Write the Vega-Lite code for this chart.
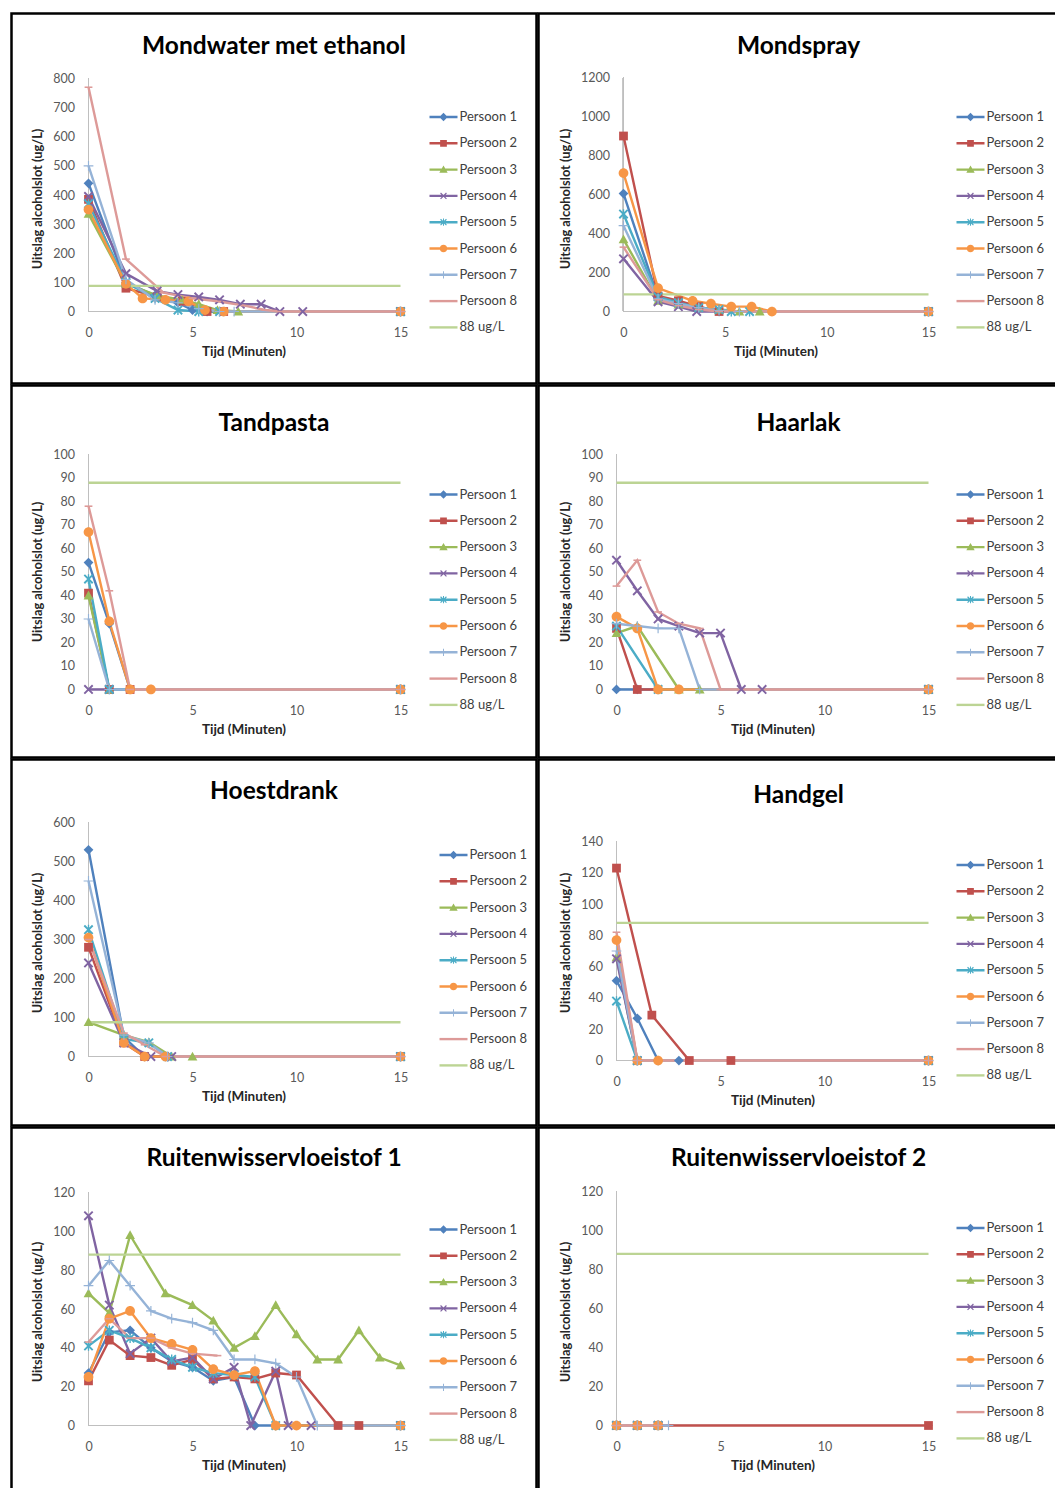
{
  "$schema": "https://vega.github.io/schema/vega-lite/v6.json",
  "background": "white",
  "padding": {"left": 9.5, "top": 11.5, "right": 0, "bottom": 0},
  "spacing": -6,
  "datasets": {
    "d": [
      {"panel":"mondwater","persoon":"Persoon 1","tijd":0,"waarde":440},{"panel":"mondwater","persoon":"Persoon 1","tijd":1.8,"waarde":100},{"panel":"mondwater","persoon":"Persoon 1","tijd":3.2,"waarde":55},{"panel":"mondwater","persoon":"Persoon 1","tijd":4.3,"waarde":30},{"panel":"mondwater","persoon":"Persoon 1","tijd":5,"waarde":5},{"panel":"mondwater","persoon":"Persoon 1","tijd":5.7,"waarde":0},{"panel":"mondwater","persoon":"Persoon 1","tijd":15,"waarde":0},
      {"panel":"mondwater","persoon":"Persoon 2","tijd":0,"waarde":385},{"panel":"mondwater","persoon":"Persoon 2","tijd":1.8,"waarde":80},{"panel":"mondwater","persoon":"Persoon 2","tijd":3.3,"waarde":50},{"panel":"mondwater","persoon":"Persoon 2","tijd":4.5,"waarde":35},{"panel":"mondwater","persoon":"Persoon 2","tijd":5.7,"waarde":0},{"panel":"mondwater","persoon":"Persoon 2","tijd":6.5,"waarde":0},{"panel":"mondwater","persoon":"Persoon 2","tijd":15,"waarde":0},
      {"panel":"mondwater","persoon":"Persoon 3","tijd":0,"waarde":335},{"panel":"mondwater","persoon":"Persoon 3","tijd":1.8,"waarde":95},{"panel":"mondwater","persoon":"Persoon 3","tijd":3.3,"waarde":55},{"panel":"mondwater","persoon":"Persoon 3","tijd":4.5,"waarde":40},{"panel":"mondwater","persoon":"Persoon 3","tijd":5.3,"waarde":25},{"panel":"mondwater","persoon":"Persoon 3","tijd":6.2,"waarde":5},{"panel":"mondwater","persoon":"Persoon 3","tijd":7.2,"waarde":0},{"panel":"mondwater","persoon":"Persoon 3","tijd":15,"waarde":0},
      {"panel":"mondwater","persoon":"Persoon 4","tijd":0,"waarde":395},{"panel":"mondwater","persoon":"Persoon 4","tijd":1.8,"waarde":130},{"panel":"mondwater","persoon":"Persoon 4","tijd":3.3,"waarde":70},{"panel":"mondwater","persoon":"Persoon 4","tijd":4.3,"waarde":58},{"panel":"mondwater","persoon":"Persoon 4","tijd":5.3,"waarde":50},{"panel":"mondwater","persoon":"Persoon 4","tijd":6.3,"waarde":40},{"panel":"mondwater","persoon":"Persoon 4","tijd":7.3,"waarde":25},{"panel":"mondwater","persoon":"Persoon 4","tijd":8.3,"waarde":25},{"panel":"mondwater","persoon":"Persoon 4","tijd":9.2,"waarde":0},{"panel":"mondwater","persoon":"Persoon 4","tijd":10.3,"waarde":0},{"panel":"mondwater","persoon":"Persoon 4","tijd":15,"waarde":0},
      {"panel":"mondwater","persoon":"Persoon 5","tijd":0,"waarde":370},{"panel":"mondwater","persoon":"Persoon 5","tijd":1.8,"waarde":100},{"panel":"mondwater","persoon":"Persoon 5","tijd":3.2,"waarde":45},{"panel":"mondwater","persoon":"Persoon 5","tijd":4.3,"waarde":5},{"panel":"mondwater","persoon":"Persoon 5","tijd":5.3,"waarde":0},{"panel":"mondwater","persoon":"Persoon 5","tijd":6.3,"waarde":0},{"panel":"mondwater","persoon":"Persoon 5","tijd":15,"waarde":0},
      {"panel":"mondwater","persoon":"Persoon 6","tijd":0,"waarde":350},{"panel":"mondwater","persoon":"Persoon 6","tijd":1.8,"waarde":95},{"panel":"mondwater","persoon":"Persoon 6","tijd":2.6,"waarde":45},{"panel":"mondwater","persoon":"Persoon 6","tijd":3.7,"waarde":40},{"panel":"mondwater","persoon":"Persoon 6","tijd":4.8,"waarde":35},{"panel":"mondwater","persoon":"Persoon 6","tijd":5.6,"waarde":5},{"panel":"mondwater","persoon":"Persoon 6","tijd":6.5,"waarde":0},{"panel":"mondwater","persoon":"Persoon 6","tijd":15,"waarde":0},
      {"panel":"mondwater","persoon":"Persoon 7","tijd":0,"waarde":500},{"panel":"mondwater","persoon":"Persoon 7","tijd":1.8,"waarde":110},{"panel":"mondwater","persoon":"Persoon 7","tijd":3.2,"waarde":40},{"panel":"mondwater","persoon":"Persoon 7","tijd":4.3,"waarde":30},{"panel":"mondwater","persoon":"Persoon 7","tijd":5.3,"waarde":10},{"panel":"mondwater","persoon":"Persoon 7","tijd":6.3,"waarde":0},{"panel":"mondwater","persoon":"Persoon 7","tijd":7,"waarde":0},{"panel":"mondwater","persoon":"Persoon 7","tijd":15,"waarde":0},
      {"panel":"mondwater","persoon":"Persoon 8","tijd":0,"waarde":770},{"panel":"mondwater","persoon":"Persoon 8","tijd":1.8,"waarde":180},{"panel":"mondwater","persoon":"Persoon 8","tijd":3.6,"waarde":65},{"panel":"mondwater","persoon":"Persoon 8","tijd":5,"waarde":45},{"panel":"mondwater","persoon":"Persoon 8","tijd":6.2,"waarde":35},{"panel":"mondwater","persoon":"Persoon 8","tijd":7.5,"waarde":20},{"panel":"mondwater","persoon":"Persoon 8","tijd":8.5,"waarde":5},{"panel":"mondwater","persoon":"Persoon 8","tijd":9.2,"waarde":0},{"panel":"mondwater","persoon":"Persoon 8","tijd":15,"waarde":0},
      {"panel":"mondwater","persoon":"88 ug/L","tijd":0,"waarde":88},{"panel":"mondwater","persoon":"88 ug/L","tijd":15,"waarde":88},

      {"panel":"mondspray","persoon":"Persoon 1","tijd":0,"waarde":605},{"panel":"mondspray","persoon":"Persoon 1","tijd":1.7,"waarde":70},{"panel":"mondspray","persoon":"Persoon 1","tijd":2.7,"waarde":40},{"panel":"mondspray","persoon":"Persoon 1","tijd":3.7,"waarde":15},{"panel":"mondspray","persoon":"Persoon 1","tijd":4.7,"waarde":0},{"panel":"mondspray","persoon":"Persoon 1","tijd":15,"waarde":0},
      {"panel":"mondspray","persoon":"Persoon 2","tijd":0,"waarde":900},{"panel":"mondspray","persoon":"Persoon 2","tijd":1.7,"waarde":80},{"panel":"mondspray","persoon":"Persoon 2","tijd":2.7,"waarde":55},{"panel":"mondspray","persoon":"Persoon 2","tijd":3.7,"waarde":25},{"panel":"mondspray","persoon":"Persoon 2","tijd":4.7,"waarde":0},{"panel":"mondspray","persoon":"Persoon 2","tijd":15,"waarde":0},
      {"panel":"mondspray","persoon":"Persoon 3","tijd":0,"waarde":370},{"panel":"mondspray","persoon":"Persoon 3","tijd":1.7,"waarde":55},{"panel":"mondspray","persoon":"Persoon 3","tijd":2.7,"waarde":35},{"panel":"mondspray","persoon":"Persoon 3","tijd":3.7,"waarde":20},{"panel":"mondspray","persoon":"Persoon 3","tijd":4.7,"waarde":10},{"panel":"mondspray","persoon":"Persoon 3","tijd":5.7,"waarde":0},{"panel":"mondspray","persoon":"Persoon 3","tijd":6.7,"waarde":0},{"panel":"mondspray","persoon":"Persoon 3","tijd":15,"waarde":0},
      {"panel":"mondspray","persoon":"Persoon 4","tijd":0,"waarde":270},{"panel":"mondspray","persoon":"Persoon 4","tijd":1.7,"waarde":50},{"panel":"mondspray","persoon":"Persoon 4","tijd":2.7,"waarde":25},{"panel":"mondspray","persoon":"Persoon 4","tijd":3.6,"waarde":0},{"panel":"mondspray","persoon":"Persoon 4","tijd":15,"waarde":0},
      {"panel":"mondspray","persoon":"Persoon 5","tijd":0,"waarde":500},{"panel":"mondspray","persoon":"Persoon 5","tijd":1.7,"waarde":75},{"panel":"mondspray","persoon":"Persoon 5","tijd":2.7,"waarde":45},{"panel":"mondspray","persoon":"Persoon 5","tijd":3.7,"waarde":20},{"panel":"mondspray","persoon":"Persoon 5","tijd":4.7,"waarde":10},{"panel":"mondspray","persoon":"Persoon 5","tijd":5.3,"waarde":0},{"panel":"mondspray","persoon":"Persoon 5","tijd":6.2,"waarde":0},{"panel":"mondspray","persoon":"Persoon 5","tijd":15,"waarde":0},
      {"panel":"mondspray","persoon":"Persoon 6","tijd":0,"waarde":710},{"panel":"mondspray","persoon":"Persoon 6","tijd":1.7,"waarde":120},{"panel":"mondspray","persoon":"Persoon 6","tijd":3.4,"waarde":55},{"panel":"mondspray","persoon":"Persoon 6","tijd":4.3,"waarde":40},{"panel":"mondspray","persoon":"Persoon 6","tijd":5.3,"waarde":25},{"panel":"mondspray","persoon":"Persoon 6","tijd":6.3,"waarde":25},{"panel":"mondspray","persoon":"Persoon 6","tijd":7.3,"waarde":0},{"panel":"mondspray","persoon":"Persoon 6","tijd":15,"waarde":0},
      {"panel":"mondspray","persoon":"Persoon 7","tijd":0,"waarde":440},{"panel":"mondspray","persoon":"Persoon 7","tijd":1.7,"waarde":65},{"panel":"mondspray","persoon":"Persoon 7","tijd":2.7,"waarde":40},{"panel":"mondspray","persoon":"Persoon 7","tijd":3.7,"waarde":20},{"panel":"mondspray","persoon":"Persoon 7","tijd":4.7,"waarde":5},{"panel":"mondspray","persoon":"Persoon 7","tijd":5.7,"waarde":0},{"panel":"mondspray","persoon":"Persoon 7","tijd":15,"waarde":0},
      {"panel":"mondspray","persoon":"Persoon 8","tijd":0,"waarde":330},{"panel":"mondspray","persoon":"Persoon 8","tijd":1.7,"waarde":60},{"panel":"mondspray","persoon":"Persoon 8","tijd":2.7,"waarde":30},{"panel":"mondspray","persoon":"Persoon 8","tijd":3.7,"waarde":10},{"panel":"mondspray","persoon":"Persoon 8","tijd":4.7,"waarde":0},{"panel":"mondspray","persoon":"Persoon 8","tijd":15,"waarde":0},
      {"panel":"mondspray","persoon":"88 ug/L","tijd":0,"waarde":88},{"panel":"mondspray","persoon":"88 ug/L","tijd":15,"waarde":88},

      {"panel":"tandpasta","persoon":"Persoon 1","tijd":0,"waarde":54},{"panel":"tandpasta","persoon":"Persoon 1","tijd":1,"waarde":28},{"panel":"tandpasta","persoon":"Persoon 1","tijd":2,"waarde":0},{"panel":"tandpasta","persoon":"Persoon 1","tijd":15,"waarde":0},
      {"panel":"tandpasta","persoon":"Persoon 2","tijd":0,"waarde":41},{"panel":"tandpasta","persoon":"Persoon 2","tijd":1,"waarde":0},{"panel":"tandpasta","persoon":"Persoon 2","tijd":2,"waarde":0},{"panel":"tandpasta","persoon":"Persoon 2","tijd":15,"waarde":0},
      {"panel":"tandpasta","persoon":"Persoon 3","tijd":0,"waarde":40},{"panel":"tandpasta","persoon":"Persoon 3","tijd":1,"waarde":0},{"panel":"tandpasta","persoon":"Persoon 3","tijd":15,"waarde":0},
      {"panel":"tandpasta","persoon":"Persoon 4","tijd":0,"waarde":0},{"panel":"tandpasta","persoon":"Persoon 4","tijd":1,"waarde":0},{"panel":"tandpasta","persoon":"Persoon 4","tijd":15,"waarde":0},
      {"panel":"tandpasta","persoon":"Persoon 5","tijd":0,"waarde":47},{"panel":"tandpasta","persoon":"Persoon 5","tijd":1,"waarde":0},{"panel":"tandpasta","persoon":"Persoon 5","tijd":15,"waarde":0},
      {"panel":"tandpasta","persoon":"Persoon 6","tijd":0,"waarde":67},{"panel":"tandpasta","persoon":"Persoon 6","tijd":1,"waarde":29},{"panel":"tandpasta","persoon":"Persoon 6","tijd":2,"waarde":0},{"panel":"tandpasta","persoon":"Persoon 6","tijd":3,"waarde":0},{"panel":"tandpasta","persoon":"Persoon 6","tijd":15,"waarde":0},
      {"panel":"tandpasta","persoon":"Persoon 7","tijd":0,"waarde":30},{"panel":"tandpasta","persoon":"Persoon 7","tijd":1,"waarde":0},{"panel":"tandpasta","persoon":"Persoon 7","tijd":15,"waarde":0},
      {"panel":"tandpasta","persoon":"Persoon 8","tijd":0,"waarde":78},{"panel":"tandpasta","persoon":"Persoon 8","tijd":1,"waarde":42},{"panel":"tandpasta","persoon":"Persoon 8","tijd":2,"waarde":0},{"panel":"tandpasta","persoon":"Persoon 8","tijd":15,"waarde":0},
      {"panel":"tandpasta","persoon":"88 ug/L","tijd":0,"waarde":88},{"panel":"tandpasta","persoon":"88 ug/L","tijd":15,"waarde":88},

      {"panel":"haarlak","persoon":"Persoon 1","tijd":0,"waarde":0},{"panel":"haarlak","persoon":"Persoon 1","tijd":1,"waarde":0},{"panel":"haarlak","persoon":"Persoon 1","tijd":15,"waarde":0},
      {"panel":"haarlak","persoon":"Persoon 2","tijd":0,"waarde":26},{"panel":"haarlak","persoon":"Persoon 2","tijd":1,"waarde":0},{"panel":"haarlak","persoon":"Persoon 2","tijd":15,"waarde":0},
      {"panel":"haarlak","persoon":"Persoon 3","tijd":0,"waarde":24},{"panel":"haarlak","persoon":"Persoon 3","tijd":1,"waarde":27},{"panel":"haarlak","persoon":"Persoon 3","tijd":3,"waarde":0},{"panel":"haarlak","persoon":"Persoon 3","tijd":4,"waarde":0},{"panel":"haarlak","persoon":"Persoon 3","tijd":15,"waarde":0},
      {"panel":"haarlak","persoon":"Persoon 4","tijd":0,"waarde":55},{"panel":"haarlak","persoon":"Persoon 4","tijd":1,"waarde":42},{"panel":"haarlak","persoon":"Persoon 4","tijd":2,"waarde":30},{"panel":"haarlak","persoon":"Persoon 4","tijd":3,"waarde":27},{"panel":"haarlak","persoon":"Persoon 4","tijd":4,"waarde":24},{"panel":"haarlak","persoon":"Persoon 4","tijd":5,"waarde":24},{"panel":"haarlak","persoon":"Persoon 4","tijd":6,"waarde":0},{"panel":"haarlak","persoon":"Persoon 4","tijd":7,"waarde":0},{"panel":"haarlak","persoon":"Persoon 4","tijd":15,"waarde":0},
      {"panel":"haarlak","persoon":"Persoon 5","tijd":0,"waarde":27},{"panel":"haarlak","persoon":"Persoon 5","tijd":2,"waarde":0},{"panel":"haarlak","persoon":"Persoon 5","tijd":15,"waarde":0},
      {"panel":"haarlak","persoon":"Persoon 6","tijd":0,"waarde":31},{"panel":"haarlak","persoon":"Persoon 6","tijd":1,"waarde":26},{"panel":"haarlak","persoon":"Persoon 6","tijd":2,"waarde":0},{"panel":"haarlak","persoon":"Persoon 6","tijd":3,"waarde":0},{"panel":"haarlak","persoon":"Persoon 6","tijd":15,"waarde":0},
      {"panel":"haarlak","persoon":"Persoon 7","tijd":0,"waarde":28},{"panel":"haarlak","persoon":"Persoon 7","tijd":1,"waarde":27},{"panel":"haarlak","persoon":"Persoon 7","tijd":2,"waarde":26},{"panel":"haarlak","persoon":"Persoon 7","tijd":3,"waarde":26},{"panel":"haarlak","persoon":"Persoon 7","tijd":4,"waarde":0},{"panel":"haarlak","persoon":"Persoon 7","tijd":15,"waarde":0},
      {"panel":"haarlak","persoon":"Persoon 8","tijd":0,"waarde":44},{"panel":"haarlak","persoon":"Persoon 8","tijd":1,"waarde":55},{"panel":"haarlak","persoon":"Persoon 8","tijd":2,"waarde":33},{"panel":"haarlak","persoon":"Persoon 8","tijd":3,"waarde":28},{"panel":"haarlak","persoon":"Persoon 8","tijd":4,"waarde":26},{"panel":"haarlak","persoon":"Persoon 8","tijd":5,"waarde":0},{"panel":"haarlak","persoon":"Persoon 8","tijd":15,"waarde":0},
      {"panel":"haarlak","persoon":"88 ug/L","tijd":0,"waarde":88},{"panel":"haarlak","persoon":"88 ug/L","tijd":15,"waarde":88},

      {"panel":"hoestdrank","persoon":"Persoon 1","tijd":0,"waarde":530},{"panel":"hoestdrank","persoon":"Persoon 1","tijd":1.7,"waarde":50},{"panel":"hoestdrank","persoon":"Persoon 1","tijd":2.7,"waarde":0},{"panel":"hoestdrank","persoon":"Persoon 1","tijd":3.7,"waarde":0},{"panel":"hoestdrank","persoon":"Persoon 1","tijd":15,"waarde":0},
      {"panel":"hoestdrank","persoon":"Persoon 2","tijd":0,"waarde":280},{"panel":"hoestdrank","persoon":"Persoon 2","tijd":1.7,"waarde":35},{"panel":"hoestdrank","persoon":"Persoon 2","tijd":2.7,"waarde":0},{"panel":"hoestdrank","persoon":"Persoon 2","tijd":15,"waarde":0},
      {"panel":"hoestdrank","persoon":"Persoon 3","tijd":0,"waarde":88},{"panel":"hoestdrank","persoon":"Persoon 3","tijd":1.7,"waarde":55},{"panel":"hoestdrank","persoon":"Persoon 3","tijd":2.9,"waarde":37},{"panel":"hoestdrank","persoon":"Persoon 3","tijd":4,"waarde":0},{"panel":"hoestdrank","persoon":"Persoon 3","tijd":5,"waarde":0},{"panel":"hoestdrank","persoon":"Persoon 3","tijd":15,"waarde":0},
      {"panel":"hoestdrank","persoon":"Persoon 4","tijd":0,"waarde":240},{"panel":"hoestdrank","persoon":"Persoon 4","tijd":1.7,"waarde":35},{"panel":"hoestdrank","persoon":"Persoon 4","tijd":3,"waarde":0},{"panel":"hoestdrank","persoon":"Persoon 4","tijd":4,"waarde":0},{"panel":"hoestdrank","persoon":"Persoon 4","tijd":15,"waarde":0},
      {"panel":"hoestdrank","persoon":"Persoon 5","tijd":0,"waarde":325},{"panel":"hoestdrank","persoon":"Persoon 5","tijd":1.7,"waarde":45},{"panel":"hoestdrank","persoon":"Persoon 5","tijd":2.9,"waarde":35},{"panel":"hoestdrank","persoon":"Persoon 5","tijd":3.8,"waarde":0},{"panel":"hoestdrank","persoon":"Persoon 5","tijd":15,"waarde":0},
      {"panel":"hoestdrank","persoon":"Persoon 6","tijd":0,"waarde":305},{"panel":"hoestdrank","persoon":"Persoon 6","tijd":1.7,"waarde":35},{"panel":"hoestdrank","persoon":"Persoon 6","tijd":2.7,"waarde":0},{"panel":"hoestdrank","persoon":"Persoon 6","tijd":3.7,"waarde":0},{"panel":"hoestdrank","persoon":"Persoon 6","tijd":15,"waarde":0},
      {"panel":"hoestdrank","persoon":"Persoon 7","tijd":0,"waarde":450},{"panel":"hoestdrank","persoon":"Persoon 7","tijd":1.7,"waarde":55},{"panel":"hoestdrank","persoon":"Persoon 7","tijd":2.9,"waarde":35},{"panel":"hoestdrank","persoon":"Persoon 7","tijd":3.8,"waarde":0},{"panel":"hoestdrank","persoon":"Persoon 7","tijd":15,"waarde":0},
      {"panel":"hoestdrank","persoon":"Persoon 8","tijd":0,"waarde":300},{"panel":"hoestdrank","persoon":"Persoon 8","tijd":1.7,"waarde":60},{"panel":"hoestdrank","persoon":"Persoon 8","tijd":2.7,"waarde":30},{"panel":"hoestdrank","persoon":"Persoon 8","tijd":3.7,"waarde":0},{"panel":"hoestdrank","persoon":"Persoon 8","tijd":15,"waarde":0},
      {"panel":"hoestdrank","persoon":"88 ug/L","tijd":0,"waarde":88},{"panel":"hoestdrank","persoon":"88 ug/L","tijd":15,"waarde":88},

      {"panel":"handgel","persoon":"Persoon 1","tijd":0,"waarde":51},{"panel":"handgel","persoon":"Persoon 1","tijd":1,"waarde":27},{"panel":"handgel","persoon":"Persoon 1","tijd":2,"waarde":0},{"panel":"handgel","persoon":"Persoon 1","tijd":3,"waarde":0},{"panel":"handgel","persoon":"Persoon 1","tijd":15,"waarde":0},
      {"panel":"handgel","persoon":"Persoon 2","tijd":0,"waarde":123},{"panel":"handgel","persoon":"Persoon 2","tijd":1.7,"waarde":29},{"panel":"handgel","persoon":"Persoon 2","tijd":3.5,"waarde":0},{"panel":"handgel","persoon":"Persoon 2","tijd":5.5,"waarde":0},{"panel":"handgel","persoon":"Persoon 2","tijd":15,"waarde":0},
      {"panel":"handgel","persoon":"Persoon 3","tijd":0,"waarde":66},{"panel":"handgel","persoon":"Persoon 3","tijd":1,"waarde":0},{"panel":"handgel","persoon":"Persoon 3","tijd":15,"waarde":0},
      {"panel":"handgel","persoon":"Persoon 4","tijd":0,"waarde":65},{"panel":"handgel","persoon":"Persoon 4","tijd":1,"waarde":0},{"panel":"handgel","persoon":"Persoon 4","tijd":15,"waarde":0},
      {"panel":"handgel","persoon":"Persoon 5","tijd":0,"waarde":38},{"panel":"handgel","persoon":"Persoon 5","tijd":1,"waarde":0},{"panel":"handgel","persoon":"Persoon 5","tijd":15,"waarde":0},
      {"panel":"handgel","persoon":"Persoon 6","tijd":0,"waarde":77},{"panel":"handgel","persoon":"Persoon 6","tijd":1,"waarde":0},{"panel":"handgel","persoon":"Persoon 6","tijd":2,"waarde":0},{"panel":"handgel","persoon":"Persoon 6","tijd":15,"waarde":0},
      {"panel":"handgel","persoon":"Persoon 7","tijd":0,"waarde":70},{"panel":"handgel","persoon":"Persoon 7","tijd":1,"waarde":0},{"panel":"handgel","persoon":"Persoon 7","tijd":15,"waarde":0},
      {"panel":"handgel","persoon":"Persoon 8","tijd":0,"waarde":82},{"panel":"handgel","persoon":"Persoon 8","tijd":1,"waarde":0},{"panel":"handgel","persoon":"Persoon 8","tijd":15,"waarde":0},
      {"panel":"handgel","persoon":"88 ug/L","tijd":0,"waarde":88},{"panel":"handgel","persoon":"88 ug/L","tijd":15,"waarde":88},

      {"panel":"ruit1","persoon":"Persoon 1","tijd":0,"waarde":27},{"panel":"ruit1","persoon":"Persoon 1","tijd":1,"waarde":48},{"panel":"ruit1","persoon":"Persoon 1","tijd":2,"waarde":49},{"panel":"ruit1","persoon":"Persoon 1","tijd":3,"waarde":40},{"panel":"ruit1","persoon":"Persoon 1","tijd":4,"waarde":33},{"panel":"ruit1","persoon":"Persoon 1","tijd":5,"waarde":30},{"panel":"ruit1","persoon":"Persoon 1","tijd":6,"waarde":23},{"panel":"ruit1","persoon":"Persoon 1","tijd":7,"waarde":25},{"panel":"ruit1","persoon":"Persoon 1","tijd":8,"waarde":0},{"panel":"ruit1","persoon":"Persoon 1","tijd":15,"waarde":0},
      {"panel":"ruit1","persoon":"Persoon 2","tijd":0,"waarde":23},{"panel":"ruit1","persoon":"Persoon 2","tijd":1,"waarde":44},{"panel":"ruit1","persoon":"Persoon 2","tijd":2,"waarde":36},{"panel":"ruit1","persoon":"Persoon 2","tijd":3,"waarde":35},{"panel":"ruit1","persoon":"Persoon 2","tijd":4,"waarde":31},{"panel":"ruit1","persoon":"Persoon 2","tijd":5,"waarde":34},{"panel":"ruit1","persoon":"Persoon 2","tijd":6,"waarde":24},{"panel":"ruit1","persoon":"Persoon 2","tijd":7,"waarde":25},{"panel":"ruit1","persoon":"Persoon 2","tijd":8,"waarde":24},{"panel":"ruit1","persoon":"Persoon 2","tijd":9,"waarde":27},{"panel":"ruit1","persoon":"Persoon 2","tijd":10,"waarde":26},{"panel":"ruit1","persoon":"Persoon 2","tijd":12,"waarde":0},{"panel":"ruit1","persoon":"Persoon 2","tijd":13,"waarde":0},{"panel":"ruit1","persoon":"Persoon 2","tijd":15,"waarde":0},
      {"panel":"ruit1","persoon":"Persoon 3","tijd":0,"waarde":68},{"panel":"ruit1","persoon":"Persoon 3","tijd":1,"waarde":58},{"panel":"ruit1","persoon":"Persoon 3","tijd":2,"waarde":98},{"panel":"ruit1","persoon":"Persoon 3","tijd":3.7,"waarde":68},{"panel":"ruit1","persoon":"Persoon 3","tijd":5,"waarde":62},{"panel":"ruit1","persoon":"Persoon 3","tijd":6,"waarde":54},{"panel":"ruit1","persoon":"Persoon 3","tijd":7,"waarde":40},{"panel":"ruit1","persoon":"Persoon 3","tijd":8,"waarde":46},{"panel":"ruit1","persoon":"Persoon 3","tijd":9,"waarde":62},{"panel":"ruit1","persoon":"Persoon 3","tijd":10,"waarde":47},{"panel":"ruit1","persoon":"Persoon 3","tijd":11,"waarde":34},{"panel":"ruit1","persoon":"Persoon 3","tijd":12,"waarde":34},{"panel":"ruit1","persoon":"Persoon 3","tijd":13,"waarde":49},{"panel":"ruit1","persoon":"Persoon 3","tijd":14,"waarde":35},{"panel":"ruit1","persoon":"Persoon 3","tijd":15,"waarde":31},
      {"panel":"ruit1","persoon":"Persoon 4","tijd":0,"waarde":108},{"panel":"ruit1","persoon":"Persoon 4","tijd":1,"waarde":62},{"panel":"ruit1","persoon":"Persoon 4","tijd":2,"waarde":37},{"panel":"ruit1","persoon":"Persoon 4","tijd":3,"waarde":45},{"panel":"ruit1","persoon":"Persoon 4","tijd":4,"waarde":33},{"panel":"ruit1","persoon":"Persoon 4","tijd":5,"waarde":35},{"panel":"ruit1","persoon":"Persoon 4","tijd":6,"waarde":24},{"panel":"ruit1","persoon":"Persoon 4","tijd":7,"waarde":30},{"panel":"ruit1","persoon":"Persoon 4","tijd":7.8,"waarde":0},{"panel":"ruit1","persoon":"Persoon 4","tijd":9,"waarde":28},{"panel":"ruit1","persoon":"Persoon 4","tijd":9.6,"waarde":0},{"panel":"ruit1","persoon":"Persoon 4","tijd":10.7,"waarde":0},{"panel":"ruit1","persoon":"Persoon 4","tijd":15,"waarde":0},
      {"panel":"ruit1","persoon":"Persoon 5","tijd":0,"waarde":41},{"panel":"ruit1","persoon":"Persoon 5","tijd":1,"waarde":49},{"panel":"ruit1","persoon":"Persoon 5","tijd":2,"waarde":45},{"panel":"ruit1","persoon":"Persoon 5","tijd":3,"waarde":40},{"panel":"ruit1","persoon":"Persoon 5","tijd":4,"waarde":34},{"panel":"ruit1","persoon":"Persoon 5","tijd":5,"waarde":30},{"panel":"ruit1","persoon":"Persoon 5","tijd":6,"waarde":27},{"panel":"ruit1","persoon":"Persoon 5","tijd":7,"waarde":26},{"panel":"ruit1","persoon":"Persoon 5","tijd":8,"waarde":25},{"panel":"ruit1","persoon":"Persoon 5","tijd":9,"waarde":0},{"panel":"ruit1","persoon":"Persoon 5","tijd":15,"waarde":0},
      {"panel":"ruit1","persoon":"Persoon 6","tijd":0,"waarde":25},{"panel":"ruit1","persoon":"Persoon 6","tijd":1,"waarde":55},{"panel":"ruit1","persoon":"Persoon 6","tijd":2,"waarde":59},{"panel":"ruit1","persoon":"Persoon 6","tijd":3,"waarde":45},{"panel":"ruit1","persoon":"Persoon 6","tijd":4,"waarde":42},{"panel":"ruit1","persoon":"Persoon 6","tijd":5,"waarde":39},{"panel":"ruit1","persoon":"Persoon 6","tijd":6,"waarde":29},{"panel":"ruit1","persoon":"Persoon 6","tijd":7,"waarde":26},{"panel":"ruit1","persoon":"Persoon 6","tijd":8,"waarde":28},{"panel":"ruit1","persoon":"Persoon 6","tijd":9,"waarde":0},{"panel":"ruit1","persoon":"Persoon 6","tijd":10,"waarde":0},{"panel":"ruit1","persoon":"Persoon 6","tijd":15,"waarde":0},
      {"panel":"ruit1","persoon":"Persoon 7","tijd":0,"waarde":72},{"panel":"ruit1","persoon":"Persoon 7","tijd":1,"waarde":85},{"panel":"ruit1","persoon":"Persoon 7","tijd":2,"waarde":72},{"panel":"ruit1","persoon":"Persoon 7","tijd":3,"waarde":59},{"panel":"ruit1","persoon":"Persoon 7","tijd":4,"waarde":55},{"panel":"ruit1","persoon":"Persoon 7","tijd":5,"waarde":53},{"panel":"ruit1","persoon":"Persoon 7","tijd":6,"waarde":49},{"panel":"ruit1","persoon":"Persoon 7","tijd":7,"waarde":34},{"panel":"ruit1","persoon":"Persoon 7","tijd":8,"waarde":34},{"panel":"ruit1","persoon":"Persoon 7","tijd":9,"waarde":32},{"panel":"ruit1","persoon":"Persoon 7","tijd":10,"waarde":25},{"panel":"ruit1","persoon":"Persoon 7","tijd":11,"waarde":0},{"panel":"ruit1","persoon":"Persoon 7","tijd":15,"waarde":0},
      {"panel":"ruit1","persoon":"Persoon 8","tijd":0,"waarde":43},{"panel":"ruit1","persoon":"Persoon 8","tijd":1,"waarde":55},{"panel":"ruit1","persoon":"Persoon 8","tijd":2,"waarde":45},{"panel":"ruit1","persoon":"Persoon 8","tijd":3,"waarde":45},{"panel":"ruit1","persoon":"Persoon 8","tijd":4,"waarde":40},{"panel":"ruit1","persoon":"Persoon 8","tijd":5,"waarde":37},{"panel":"ruit1","persoon":"Persoon 8","tijd":6.2,"waarde":36},
      {"panel":"ruit1","persoon":"88 ug/L","tijd":0,"waarde":88},{"panel":"ruit1","persoon":"88 ug/L","tijd":15,"waarde":88},

      {"panel":"ruit2","persoon":"Persoon 1","tijd":0,"waarde":0},{"panel":"ruit2","persoon":"Persoon 1","tijd":1,"waarde":0},{"panel":"ruit2","persoon":"Persoon 1","tijd":2,"waarde":0},
      {"panel":"ruit2","persoon":"Persoon 2","tijd":0,"waarde":0},{"panel":"ruit2","persoon":"Persoon 2","tijd":1,"waarde":0},{"panel":"ruit2","persoon":"Persoon 2","tijd":2,"waarde":0},{"panel":"ruit2","persoon":"Persoon 2","tijd":15,"waarde":0},
      {"panel":"ruit2","persoon":"Persoon 3","tijd":0,"waarde":0},{"panel":"ruit2","persoon":"Persoon 3","tijd":1,"waarde":0},{"panel":"ruit2","persoon":"Persoon 3","tijd":2,"waarde":0},
      {"panel":"ruit2","persoon":"Persoon 4","tijd":0,"waarde":0},{"panel":"ruit2","persoon":"Persoon 4","tijd":1,"waarde":0},{"panel":"ruit2","persoon":"Persoon 4","tijd":2,"waarde":0},
      {"panel":"ruit2","persoon":"Persoon 5","tijd":0,"waarde":0},{"panel":"ruit2","persoon":"Persoon 5","tijd":1,"waarde":0},{"panel":"ruit2","persoon":"Persoon 5","tijd":2,"waarde":0},
      {"panel":"ruit2","persoon":"Persoon 6","tijd":0,"waarde":0},{"panel":"ruit2","persoon":"Persoon 6","tijd":1,"waarde":0},{"panel":"ruit2","persoon":"Persoon 6","tijd":2,"waarde":0},
      {"panel":"ruit2","persoon":"Persoon 7","tijd":0,"waarde":0},{"panel":"ruit2","persoon":"Persoon 7","tijd":1,"waarde":0},{"panel":"ruit2","persoon":"Persoon 7","tijd":2,"waarde":0},{"panel":"ruit2","persoon":"Persoon 7","tijd":2.5,"waarde":0},
      {"panel":"ruit2","persoon":"Persoon 8","tijd":0,"waarde":0},{"panel":"ruit2","persoon":"Persoon 8","tijd":1,"waarde":0},{"panel":"ruit2","persoon":"Persoon 8","tijd":2,"waarde":0},
      {"panel":"ruit2","persoon":"88 ug/L","tijd":0,"waarde":88},{"panel":"ruit2","persoon":"88 ug/L","tijd":15,"waarde":88}
    ]
  },
  "vconcat": [
    {"spacing": -6, "hconcat": [
      {"width": 525, "height": 370, "data": {"name": "d"}, "transform": [{"filter": "datum.panel === 'mondwater'"}],
       "title": {"text": "Mondwater met ethanol", "offset": -45.5},
       "encoding": {
         "x": {"field": "tijd", "type": "quantitative", "scale": {"domain": [-3.702, 21.538], "nice": false, "zero": false}, "axis": {"values": [0, 5, 10, 15], "offset": -72, "title": "Tijd (Minuten)", "titleX": 232}},
         "y": {"field": "waarde", "type": "quantitative", "scale": {"domain": [-247.2, 1023.2], "nice": false, "zero": false}, "axis": {"values": [0, 100, 200, 300, 400, 500, 600, 700, 800], "offset": -77, "title": "Uitslag alcoholslot (ug/L)"}}
       },
       "layer": [
         {"mark": {"type": "rule", "color": "#BFBFBF", "strokeWidth": 1}, "encoding": {"x": {"datum": 0, "type": "quantitative", "axis": {"values": [0, 5, 10, 15], "offset": -72, "title": "Tijd (Minuten)", "titleX": 232}}, "y": {"datum": 0, "type": "quantitative", "axis": {"values": [0, 100, 200, 300, 400, 500, 600, 700, 800], "offset": -77, "title": "Uitslag alcoholslot (ug/L)"}}, "y2": {"datum": 800}}},
         {"mark": {"type": "rule", "color": "#BFBFBF", "strokeWidth": 1}, "encoding": {"x": {"datum": 0, "type": "quantitative", "axis": {"values": [0, 5, 10, 15], "offset": -72, "title": "Tijd (Minuten)", "titleX": 232}}, "x2": {"datum": 15.2}, "y": {"datum": 0, "type": "quantitative", "axis": {"values": [0, 100, 200, 300, 400, 500, 600, 700, 800], "offset": -77, "title": "Uitslag alcoholslot (ug/L)"}}}},
         {"mark": {"type": "line", "strokeWidth": 2.4},
          "encoding": {
            "color": {"field": "persoon", "type": "nominal", "scale": {"domain": ["Persoon 1","Persoon 2","Persoon 3","Persoon 4","Persoon 5","Persoon 6","Persoon 7","Persoon 8","88 ug/L"], "range": ["#4F81BD","#C0504D","#9BBB59","#8064A2","#4BACC6","#F79646","#95B3D7","#DD9A98","#BCD494"]}, "legend": null}}},
         {"mark": {"type": "point", "filled": true, "opacity": 1, "size": 95}, "transform": [{"filter": "datum.persoon !== '88 ug/L'"}],
          "encoding": {
            "color": {"field": "persoon", "type": "nominal", "scale": {"domain": ["Persoon 1","Persoon 2","Persoon 3","Persoon 4","Persoon 5","Persoon 6","Persoon 7","Persoon 8","88 ug/L"], "range": ["#4F81BD","#C0504D","#9BBB59","#8064A2","#4BACC6","#F79646","#95B3D7","#DD9A98","#BCD494"]}, "legend": null},
            "shape": {"field": "persoon", "type": "nominal", "scale": {"domain": ["Persoon 1","Persoon 2","Persoon 3","Persoon 4","Persoon 5","Persoon 6","Persoon 7","Persoon 8"], "range": ["M0,-1L1,0L0,1L-1,0Z","M-0.9,-0.9H0.9V0.9H-0.9Z","M0,-1L1,0.8H-1Z","M-1,-0.72L-0.72,-1L1,0.72L0.72,1Z M0.72,-1L1,-0.72L-0.72,1L-1,0.72Z","M-1,-0.72L-0.72,-1L1,0.72L0.72,1Z M0.72,-1L1,-0.72L-0.72,1L-1,0.72Z M-0.14,-1H0.14V1H-0.14Z","M1,0A1,1,0,1,1,-1,0A1,1,0,1,1,1,0Z","M-1,-0.12H1V0.12H-1Z M-0.12,-1H0.12V1H-0.12Z","M-0.8,-0.16H0.8V0.16H-0.8Z"]}, "legend": null}}},
         {"data": {"values": []}, "mark": {"type": "point", "filled": true, "opacity": 1},
          "encoding": {
            "color": {"field": "lbl", "type": "nominal", "scale": {"domain": ["Persoon 1","Persoon 2","Persoon 3","Persoon 4","Persoon 5","Persoon 6","Persoon 7","Persoon 8","88 ug/L"], "range": ["#4F81BD","#C0504D","#9BBB59","#8064A2","#4BACC6","#F79646","#95B3D7","#DD9A98","#BCD494"]}, "legend": {"orient": "none", "legendX": 418, "legendY": 89.5}},
            "shape": {"field": "lbl", "type": "nominal", "scale": {"domain": ["Persoon 1","Persoon 2","Persoon 3","Persoon 4","Persoon 5","Persoon 6","Persoon 7","Persoon 8","88 ug/L"], "range": ["M-1,-0.085H1V0.085H-1Z M0,-0.3L0.3,0L0,0.3L-0.3,0Z","M-1,-0.085H1V0.085H-1Z M-0.24,-0.24H0.24V0.24H-0.24Z","M-1,-0.085H1V0.085H-1Z M0,-0.3L0.3,0.22H-0.3Z","M-1,-0.085H1V0.085H-1Z M-0.24,-0.18L-0.18,-0.24L0.24,0.18L0.18,0.24Z M0.18,-0.24L0.24,-0.18L-0.18,0.24L-0.24,0.18Z","M-1,-0.085H1V0.085H-1Z M-0.24,-0.18L-0.18,-0.24L0.24,0.18L0.18,0.24Z M0.18,-0.24L0.24,-0.18L-0.18,0.24L-0.24,0.18Z M-0.035,-0.26H0.035V0.26H-0.035Z","M-1,-0.085H1V0.085H-1Z M0.27,0A0.27,0.27,0,1,1,-0.27,0A0.27,0.27,0,1,1,0.27,0Z","M-1,-0.085H1V0.085H-1Z M-0.035,-0.26H0.035V0.26H-0.035Z","M-1,-0.085H1V0.085H-1Z","M-1,-0.085H1V0.085H-1Z"]}}}}
       ],
       "resolve": {"scale": {"color": "independent", "shape": "independent"}}},
      {"width": 520, "height": 370, "data": {"name": "d"}, "transform": [{"filter": "datum.panel === 'mondspray'"}],
       "title": {"text": "Mondspray", "offset": -45.5},
       "encoding": {
         "x": {"field": "tijd", "type": "quantitative", "scale": {"domain": [-4.18, 21.393], "nice": false, "zero": false}, "axis": {"values": [0, 5, 10, 15], "offset": -72, "title": "Tijd (Minuten)", "titleX": 237}},
         "y": {"field": "waarde", "type": "quantitative", "scale": {"domain": [-369.2, 1528.2], "nice": false, "zero": false}, "axis": {"values": [0, 200, 400, 600, 800, 1000, 1200], "offset": -85, "title": "Uitslag alcoholslot (ug/L)"}}
       },
       "layer": [
         {"mark": {"type": "rule", "color": "#BFBFBF", "strokeWidth": 1}, "encoding": {"x": {"datum": 0, "type": "quantitative", "axis": {"values": [0, 5, 10, 15], "offset": -72, "title": "Tijd (Minuten)", "titleX": 237}}, "y": {"datum": 0, "type": "quantitative", "axis": {"values": [0, 200, 400, 600, 800, 1000, 1200], "offset": -85, "title": "Uitslag alcoholslot (ug/L)"}}, "y2": {"datum": 1200}}},
         {"mark": {"type": "rule", "color": "#BFBFBF", "strokeWidth": 1}, "encoding": {"x": {"datum": 0, "type": "quantitative", "axis": {"values": [0, 5, 10, 15], "offset": -72, "title": "Tijd (Minuten)", "titleX": 237}}, "x2": {"datum": 15.2}, "y": {"datum": 0, "type": "quantitative", "axis": {"values": [0, 200, 400, 600, 800, 1000, 1200], "offset": -85, "title": "Uitslag alcoholslot (ug/L)"}}}},
         {"mark": {"type": "line", "strokeWidth": 2.4},
          "encoding": {
            "color": {"field": "persoon", "type": "nominal", "scale": {"domain": ["Persoon 1","Persoon 2","Persoon 3","Persoon 4","Persoon 5","Persoon 6","Persoon 7","Persoon 8","88 ug/L"], "range": ["#4F81BD","#C0504D","#9BBB59","#8064A2","#4BACC6","#F79646","#95B3D7","#DD9A98","#BCD494"]}, "legend": null}}},
         {"mark": {"type": "point", "filled": true, "opacity": 1, "size": 95}, "transform": [{"filter": "datum.persoon !== '88 ug/L'"}],
          "encoding": {
            "color": {"field": "persoon", "type": "nominal", "scale": {"domain": ["Persoon 1","Persoon 2","Persoon 3","Persoon 4","Persoon 5","Persoon 6","Persoon 7","Persoon 8","88 ug/L"], "range": ["#4F81BD","#C0504D","#9BBB59","#8064A2","#4BACC6","#F79646","#95B3D7","#DD9A98","#BCD494"]}, "legend": null},
            "shape": {"field": "persoon", "type": "nominal", "scale": {"domain": ["Persoon 1","Persoon 2","Persoon 3","Persoon 4","Persoon 5","Persoon 6","Persoon 7","Persoon 8"], "range": ["M0,-1L1,0L0,1L-1,0Z","M-0.9,-0.9H0.9V0.9H-0.9Z","M0,-1L1,0.8H-1Z","M-1,-0.72L-0.72,-1L1,0.72L0.72,1Z M0.72,-1L1,-0.72L-0.72,1L-1,0.72Z","M-1,-0.72L-0.72,-1L1,0.72L0.72,1Z M0.72,-1L1,-0.72L-0.72,1L-1,0.72Z M-0.14,-1H0.14V1H-0.14Z","M1,0A1,1,0,1,1,-1,0A1,1,0,1,1,1,0Z","M-1,-0.12H1V0.12H-1Z M-0.12,-1H0.12V1H-0.12Z","M-0.8,-0.16H0.8V0.16H-0.8Z"]}, "legend": null}}},
         {"data": {"values": []}, "mark": {"type": "point", "filled": true, "opacity": 1},
          "encoding": {
            "color": {"field": "lbl", "type": "nominal", "scale": {"domain": ["Persoon 1","Persoon 2","Persoon 3","Persoon 4","Persoon 5","Persoon 6","Persoon 7","Persoon 8","88 ug/L"], "range": ["#4F81BD","#C0504D","#9BBB59","#8064A2","#4BACC6","#F79646","#95B3D7","#DD9A98","#BCD494"]}, "legend": {"orient": "none", "legendX": 418, "legendY": 89.5}},
            "shape": {"field": "lbl", "type": "nominal", "scale": {"domain": ["Persoon 1","Persoon 2","Persoon 3","Persoon 4","Persoon 5","Persoon 6","Persoon 7","Persoon 8","88 ug/L"], "range": ["M-1,-0.085H1V0.085H-1Z M0,-0.3L0.3,0L0,0.3L-0.3,0Z","M-1,-0.085H1V0.085H-1Z M-0.24,-0.24H0.24V0.24H-0.24Z","M-1,-0.085H1V0.085H-1Z M0,-0.3L0.3,0.22H-0.3Z","M-1,-0.085H1V0.085H-1Z M-0.24,-0.18L-0.18,-0.24L0.24,0.18L0.18,0.24Z M0.18,-0.24L0.24,-0.18L-0.18,0.24L-0.24,0.18Z","M-1,-0.085H1V0.085H-1Z M-0.24,-0.18L-0.18,-0.24L0.24,0.18L0.18,0.24Z M0.18,-0.24L0.24,-0.18L-0.18,0.24L-0.24,0.18Z M-0.035,-0.26H0.035V0.26H-0.035Z","M-1,-0.085H1V0.085H-1Z M0.27,0A0.27,0.27,0,1,1,-0.27,0A0.27,0.27,0,1,1,0.27,0Z","M-1,-0.085H1V0.085H-1Z M-0.035,-0.26H0.035V0.26H-0.035Z","M-1,-0.085H1V0.085H-1Z","M-1,-0.085H1V0.085H-1Z"]}}}}
       ],
       "resolve": {"scale": {"color": "independent", "shape": "independent"}}}
    ]},
    {"spacing": -6, "hconcat": [
      {"width": 525, "height": 372, "data": {"name": "d"}, "transform": [{"filter": "datum.panel === 'tandpasta'"}],
       "title": {"text": "Tandpasta", "offset": -51},
       "encoding": {
         "x": {"field": "tijd", "type": "quantitative", "scale": {"domain": [-3.702, 21.538], "nice": false, "zero": false}, "axis": {"values": [0, 5, 10, 15], "offset": -68, "title": "Tijd (Minuten)", "titleX": 232}},
         "y": {"field": "waarde", "type": "quantitative", "scale": {"domain": [-28.94, 129.36], "nice": false, "zero": false}, "axis": {"values": [0, 10, 20, 30, 40, 50, 60, 70, 80, 90, 100], "offset": -77, "title": "Uitslag alcoholslot (ug/L)"}}
       },
       "layer": [
         {"mark": {"type": "rule", "color": "#BFBFBF", "strokeWidth": 1}, "encoding": {"x": {"datum": 0, "type": "quantitative", "axis": {"values": [0, 5, 10, 15], "offset": -68, "title": "Tijd (Minuten)", "titleX": 232}}, "y": {"datum": 0, "type": "quantitative", "axis": {"values": [0, 10, 20, 30, 40, 50, 60, 70, 80, 90, 100], "offset": -77, "title": "Uitslag alcoholslot (ug/L)"}}, "y2": {"datum": 100}}},
         {"mark": {"type": "rule", "color": "#BFBFBF", "strokeWidth": 1}, "encoding": {"x": {"datum": 0, "type": "quantitative", "axis": {"values": [0, 5, 10, 15], "offset": -68, "title": "Tijd (Minuten)", "titleX": 232}}, "x2": {"datum": 15.2}, "y": {"datum": 0, "type": "quantitative", "axis": {"values": [0, 10, 20, 30, 40, 50, 60, 70, 80, 90, 100], "offset": -77, "title": "Uitslag alcoholslot (ug/L)"}}}},
         {"mark": {"type": "line", "strokeWidth": 2.4},
          "encoding": {
            "color": {"field": "persoon", "type": "nominal", "scale": {"domain": ["Persoon 1","Persoon 2","Persoon 3","Persoon 4","Persoon 5","Persoon 6","Persoon 7","Persoon 8","88 ug/L"], "range": ["#4F81BD","#C0504D","#9BBB59","#8064A2","#4BACC6","#F79646","#95B3D7","#DD9A98","#BCD494"]}, "legend": null}}},
         {"mark": {"type": "point", "filled": true, "opacity": 1, "size": 95}, "transform": [{"filter": "datum.persoon !== '88 ug/L'"}],
          "encoding": {
            "color": {"field": "persoon", "type": "nominal", "scale": {"domain": ["Persoon 1","Persoon 2","Persoon 3","Persoon 4","Persoon 5","Persoon 6","Persoon 7","Persoon 8","88 ug/L"], "range": ["#4F81BD","#C0504D","#9BBB59","#8064A2","#4BACC6","#F79646","#95B3D7","#DD9A98","#BCD494"]}, "legend": null},
            "shape": {"field": "persoon", "type": "nominal", "scale": {"domain": ["Persoon 1","Persoon 2","Persoon 3","Persoon 4","Persoon 5","Persoon 6","Persoon 7","Persoon 8"], "range": ["M0,-1L1,0L0,1L-1,0Z","M-0.9,-0.9H0.9V0.9H-0.9Z","M0,-1L1,0.8H-1Z","M-1,-0.72L-0.72,-1L1,0.72L0.72,1Z M0.72,-1L1,-0.72L-0.72,1L-1,0.72Z","M-1,-0.72L-0.72,-1L1,0.72L0.72,1Z M0.72,-1L1,-0.72L-0.72,1L-1,0.72Z M-0.14,-1H0.14V1H-0.14Z","M1,0A1,1,0,1,1,-1,0A1,1,0,1,1,1,0Z","M-1,-0.12H1V0.12H-1Z M-0.12,-1H0.12V1H-0.12Z","M-0.8,-0.16H0.8V0.16H-0.8Z"]}, "legend": null}}},
         {"data": {"values": []}, "mark": {"type": "point", "filled": true, "opacity": 1},
          "encoding": {
            "color": {"field": "lbl", "type": "nominal", "scale": {"domain": ["Persoon 1","Persoon 2","Persoon 3","Persoon 4","Persoon 5","Persoon 6","Persoon 7","Persoon 8","88 ug/L"], "range": ["#4F81BD","#C0504D","#9BBB59","#8064A2","#4BACC6","#F79646","#95B3D7","#DD9A98","#BCD494"]}, "legend": {"orient": "none", "legendX": 418, "legendY": 95}},
            "shape": {"field": "lbl", "type": "nominal", "scale": {"domain": ["Persoon 1","Persoon 2","Persoon 3","Persoon 4","Persoon 5","Persoon 6","Persoon 7","Persoon 8","88 ug/L"], "range": ["M-1,-0.085H1V0.085H-1Z M0,-0.3L0.3,0L0,0.3L-0.3,0Z","M-1,-0.085H1V0.085H-1Z M-0.24,-0.24H0.24V0.24H-0.24Z","M-1,-0.085H1V0.085H-1Z M0,-0.3L0.3,0.22H-0.3Z","M-1,-0.085H1V0.085H-1Z M-0.24,-0.18L-0.18,-0.24L0.24,0.18L0.18,0.24Z M0.18,-0.24L0.24,-0.18L-0.18,0.24L-0.24,0.18Z","M-1,-0.085H1V0.085H-1Z M-0.24,-0.18L-0.18,-0.24L0.24,0.18L0.18,0.24Z M0.18,-0.24L0.24,-0.18L-0.18,0.24L-0.24,0.18Z M-0.035,-0.26H0.035V0.26H-0.035Z","M-1,-0.085H1V0.085H-1Z M0.27,0A0.27,0.27,0,1,1,-0.27,0A0.27,0.27,0,1,1,0.27,0Z","M-1,-0.085H1V0.085H-1Z M-0.035,-0.26H0.035V0.26H-0.035Z","M-1,-0.085H1V0.085H-1Z","M-1,-0.085H1V0.085H-1Z"]}}}}
       ],
       "resolve": {"scale": {"color": "independent", "shape": "independent"}}},
      {"width": 520, "height": 372, "data": {"name": "d"}, "transform": [{"filter": "datum.panel === 'haarlak'"}],
       "title": {"text": "Haarlak", "offset": -51},
       "encoding": {
         "x": {"field": "tijd", "type": "quantitative", "scale": {"domain": [-3.75, 21.25], "nice": false, "zero": false}, "axis": {"values": [0, 5, 10, 15], "offset": -68, "title": "Tijd (Minuten)", "titleX": 234}},
         "y": {"field": "waarde", "type": "quantitative", "scale": {"domain": [-28.94, 129.36], "nice": false, "zero": false}, "axis": {"values": [0, 10, 20, 30, 40, 50, 60, 70, 80, 90, 100], "offset": -78, "title": "Uitslag alcoholslot (ug/L)"}}
       },
       "layer": [
         {"mark": {"type": "rule", "color": "#BFBFBF", "strokeWidth": 1}, "encoding": {"x": {"datum": 0, "type": "quantitative", "axis": {"values": [0, 5, 10, 15], "offset": -68, "title": "Tijd (Minuten)", "titleX": 234}}, "y": {"datum": 0, "type": "quantitative", "axis": {"values": [0, 10, 20, 30, 40, 50, 60, 70, 80, 90, 100], "offset": -78, "title": "Uitslag alcoholslot (ug/L)"}}, "y2": {"datum": 100}}},
         {"mark": {"type": "rule", "color": "#BFBFBF", "strokeWidth": 1}, "encoding": {"x": {"datum": 0, "type": "quantitative", "axis": {"values": [0, 5, 10, 15], "offset": -68, "title": "Tijd (Minuten)", "titleX": 234}}, "x2": {"datum": 15.2}, "y": {"datum": 0, "type": "quantitative", "axis": {"values": [0, 10, 20, 30, 40, 50, 60, 70, 80, 90, 100], "offset": -78, "title": "Uitslag alcoholslot (ug/L)"}}}},
         {"mark": {"type": "line", "strokeWidth": 2.4},
          "encoding": {
            "color": {"field": "persoon", "type": "nominal", "scale": {"domain": ["Persoon 1","Persoon 2","Persoon 3","Persoon 4","Persoon 5","Persoon 6","Persoon 7","Persoon 8","88 ug/L"], "range": ["#4F81BD","#C0504D","#9BBB59","#8064A2","#4BACC6","#F79646","#95B3D7","#DD9A98","#BCD494"]}, "legend": null}}},
         {"mark": {"type": "point", "filled": true, "opacity": 1, "size": 95}, "transform": [{"filter": "datum.persoon !== '88 ug/L'"}],
          "encoding": {
            "color": {"field": "persoon", "type": "nominal", "scale": {"domain": ["Persoon 1","Persoon 2","Persoon 3","Persoon 4","Persoon 5","Persoon 6","Persoon 7","Persoon 8","88 ug/L"], "range": ["#4F81BD","#C0504D","#9BBB59","#8064A2","#4BACC6","#F79646","#95B3D7","#DD9A98","#BCD494"]}, "legend": null},
            "shape": {"field": "persoon", "type": "nominal", "scale": {"domain": ["Persoon 1","Persoon 2","Persoon 3","Persoon 4","Persoon 5","Persoon 6","Persoon 7","Persoon 8"], "range": ["M0,-1L1,0L0,1L-1,0Z","M-0.9,-0.9H0.9V0.9H-0.9Z","M0,-1L1,0.8H-1Z","M-1,-0.72L-0.72,-1L1,0.72L0.72,1Z M0.72,-1L1,-0.72L-0.72,1L-1,0.72Z","M-1,-0.72L-0.72,-1L1,0.72L0.72,1Z M0.72,-1L1,-0.72L-0.72,1L-1,0.72Z M-0.14,-1H0.14V1H-0.14Z","M1,0A1,1,0,1,1,-1,0A1,1,0,1,1,1,0Z","M-1,-0.12H1V0.12H-1Z M-0.12,-1H0.12V1H-0.12Z","M-0.8,-0.16H0.8V0.16H-0.8Z"]}, "legend": null}}},
         {"data": {"values": []}, "mark": {"type": "point", "filled": true, "opacity": 1},
          "encoding": {
            "color": {"field": "lbl", "type": "nominal", "scale": {"domain": ["Persoon 1","Persoon 2","Persoon 3","Persoon 4","Persoon 5","Persoon 6","Persoon 7","Persoon 8","88 ug/L"], "range": ["#4F81BD","#C0504D","#9BBB59","#8064A2","#4BACC6","#F79646","#95B3D7","#DD9A98","#BCD494"]}, "legend": {"orient": "none", "legendX": 418, "legendY": 95}},
            "shape": {"field": "lbl", "type": "nominal", "scale": {"domain": ["Persoon 1","Persoon 2","Persoon 3","Persoon 4","Persoon 5","Persoon 6","Persoon 7","Persoon 8","88 ug/L"], "range": ["M-1,-0.085H1V0.085H-1Z M0,-0.3L0.3,0L0,0.3L-0.3,0Z","M-1,-0.085H1V0.085H-1Z M-0.24,-0.24H0.24V0.24H-0.24Z","M-1,-0.085H1V0.085H-1Z M0,-0.3L0.3,0.22H-0.3Z","M-1,-0.085H1V0.085H-1Z M-0.24,-0.18L-0.18,-0.24L0.24,0.18L0.18,0.24Z M0.18,-0.24L0.24,-0.18L-0.18,0.24L-0.24,0.18Z","M-1,-0.085H1V0.085H-1Z M-0.24,-0.18L-0.18,-0.24L0.24,0.18L0.18,0.24Z M0.18,-0.24L0.24,-0.18L-0.18,0.24L-0.24,0.18Z M-0.035,-0.26H0.035V0.26H-0.035Z","M-1,-0.085H1V0.085H-1Z M0.27,0A0.27,0.27,0,1,1,-0.27,0A0.27,0.27,0,1,1,0.27,0Z","M-1,-0.085H1V0.085H-1Z M-0.035,-0.26H0.035V0.26H-0.035Z","M-1,-0.085H1V0.085H-1Z","M-1,-0.085H1V0.085H-1Z"]}}}}
       ],
       "resolve": {"scale": {"color": "independent", "shape": "independent"}}}
    ]},
    {"spacing": -6, "hconcat": [
      {"width": 525, "height": 366, "data": {"name": "d"}, "transform": [{"filter": "datum.panel === 'hoestdrank'"}],
       "title": {"text": "Hoestdrank", "offset": -44.5},
       "encoding": {
         "x": {"field": "tijd", "type": "quantitative", "scale": {"domain": [-3.702, 21.538], "nice": false, "zero": false}, "axis": {"values": [0, 5, 10, 15], "offset": -69, "title": "Tijd (Minuten)", "titleX": 232}},
         "y": {"field": "waarde", "type": "quantitative", "scale": {"domain": [-176.9, 761.5], "nice": false, "zero": false}, "axis": {"values": [0, 100, 200, 300, 400, 500, 600], "offset": -77, "title": "Uitslag alcoholslot (ug/L)"}}
       },
       "layer": [
         {"mark": {"type": "rule", "color": "#BFBFBF", "strokeWidth": 1}, "encoding": {"x": {"datum": 0, "type": "quantitative", "axis": {"values": [0, 5, 10, 15], "offset": -69, "title": "Tijd (Minuten)", "titleX": 232}}, "y": {"datum": 0, "type": "quantitative", "axis": {"values": [0, 100, 200, 300, 400, 500, 600], "offset": -77, "title": "Uitslag alcoholslot (ug/L)"}}, "y2": {"datum": 600}}},
         {"mark": {"type": "rule", "color": "#BFBFBF", "strokeWidth": 1}, "encoding": {"x": {"datum": 0, "type": "quantitative", "axis": {"values": [0, 5, 10, 15], "offset": -69, "title": "Tijd (Minuten)", "titleX": 232}}, "x2": {"datum": 15.2}, "y": {"datum": 0, "type": "quantitative", "axis": {"values": [0, 100, 200, 300, 400, 500, 600], "offset": -77, "title": "Uitslag alcoholslot (ug/L)"}}}},
         {"mark": {"type": "line", "strokeWidth": 2.4},
          "encoding": {
            "color": {"field": "persoon", "type": "nominal", "scale": {"domain": ["Persoon 1","Persoon 2","Persoon 3","Persoon 4","Persoon 5","Persoon 6","Persoon 7","Persoon 8","88 ug/L"], "range": ["#4F81BD","#C0504D","#9BBB59","#8064A2","#4BACC6","#F79646","#95B3D7","#DD9A98","#BCD494"]}, "legend": null}}},
         {"mark": {"type": "point", "filled": true, "opacity": 1, "size": 95}, "transform": [{"filter": "datum.persoon !== '88 ug/L'"}],
          "encoding": {
            "color": {"field": "persoon", "type": "nominal", "scale": {"domain": ["Persoon 1","Persoon 2","Persoon 3","Persoon 4","Persoon 5","Persoon 6","Persoon 7","Persoon 8","88 ug/L"], "range": ["#4F81BD","#C0504D","#9BBB59","#8064A2","#4BACC6","#F79646","#95B3D7","#DD9A98","#BCD494"]}, "legend": null},
            "shape": {"field": "persoon", "type": "nominal", "scale": {"domain": ["Persoon 1","Persoon 2","Persoon 3","Persoon 4","Persoon 5","Persoon 6","Persoon 7","Persoon 8"], "range": ["M0,-1L1,0L0,1L-1,0Z","M-0.9,-0.9H0.9V0.9H-0.9Z","M0,-1L1,0.8H-1Z","M-1,-0.72L-0.72,-1L1,0.72L0.72,1Z M0.72,-1L1,-0.72L-0.72,1L-1,0.72Z","M-1,-0.72L-0.72,-1L1,0.72L0.72,1Z M0.72,-1L1,-0.72L-0.72,1L-1,0.72Z M-0.14,-1H0.14V1H-0.14Z","M1,0A1,1,0,1,1,-1,0A1,1,0,1,1,1,0Z","M-1,-0.12H1V0.12H-1Z M-0.12,-1H0.12V1H-0.12Z","M-0.8,-0.16H0.8V0.16H-0.8Z"]}, "legend": null}}},
         {"data": {"values": []}, "mark": {"type": "point", "filled": true, "opacity": 1},
          "encoding": {
            "color": {"field": "lbl", "type": "nominal", "scale": {"domain": ["Persoon 1","Persoon 2","Persoon 3","Persoon 4","Persoon 5","Persoon 6","Persoon 7","Persoon 8","88 ug/L"], "range": ["#4F81BD","#C0504D","#9BBB59","#8064A2","#4BACC6","#F79646","#95B3D7","#DD9A98","#BCD494"]}, "legend": {"orient": "none", "legendX": 428, "legendY": 81.5}},
            "shape": {"field": "lbl", "type": "nominal", "scale": {"domain": ["Persoon 1","Persoon 2","Persoon 3","Persoon 4","Persoon 5","Persoon 6","Persoon 7","Persoon 8","88 ug/L"], "range": ["M-1,-0.085H1V0.085H-1Z M0,-0.3L0.3,0L0,0.3L-0.3,0Z","M-1,-0.085H1V0.085H-1Z M-0.24,-0.24H0.24V0.24H-0.24Z","M-1,-0.085H1V0.085H-1Z M0,-0.3L0.3,0.22H-0.3Z","M-1,-0.085H1V0.085H-1Z M-0.24,-0.18L-0.18,-0.24L0.24,0.18L0.18,0.24Z M0.18,-0.24L0.24,-0.18L-0.18,0.24L-0.24,0.18Z","M-1,-0.085H1V0.085H-1Z M-0.24,-0.18L-0.18,-0.24L0.24,0.18L0.18,0.24Z M0.18,-0.24L0.24,-0.18L-0.18,0.24L-0.24,0.18Z M-0.035,-0.26H0.035V0.26H-0.035Z","M-1,-0.085H1V0.085H-1Z M0.27,0A0.27,0.27,0,1,1,-0.27,0A0.27,0.27,0,1,1,0.27,0Z","M-1,-0.085H1V0.085H-1Z M-0.035,-0.26H0.035V0.26H-0.035Z","M-1,-0.085H1V0.085H-1Z","M-1,-0.085H1V0.085H-1Z"]}}}}
       ],
       "resolve": {"scale": {"color": "independent", "shape": "independent"}}},
      {"width": 520, "height": 366, "data": {"name": "d"}, "transform": [{"filter": "datum.panel === 'handgel'"}],
       "title": {"text": "Handgel", "offset": -48.5},
       "encoding": {
         "x": {"field": "tijd", "type": "quantitative", "scale": {"domain": [-3.75, 21.25], "nice": false, "zero": false}, "axis": {"values": [0, 5, 10, 15], "offset": -65, "title": "Tijd (Minuten)", "titleX": 234}},
         "y": {"field": "waarde", "type": "quantitative", "scale": {"domain": [-41.55, 192.42], "nice": false, "zero": false}, "axis": {"values": [0, 20, 40, 60, 80, 100, 120, 140], "offset": -78, "title": "Uitslag alcoholslot (ug/L)"}}
       },
       "layer": [
         {"mark": {"type": "rule", "color": "#BFBFBF", "strokeWidth": 1}, "encoding": {"x": {"datum": 0, "type": "quantitative", "axis": {"values": [0, 5, 10, 15], "offset": -65, "title": "Tijd (Minuten)", "titleX": 234}}, "y": {"datum": 0, "type": "quantitative", "axis": {"values": [0, 20, 40, 60, 80, 100, 120, 140], "offset": -78, "title": "Uitslag alcoholslot (ug/L)"}}, "y2": {"datum": 140}}},
         {"mark": {"type": "rule", "color": "#BFBFBF", "strokeWidth": 1}, "encoding": {"x": {"datum": 0, "type": "quantitative", "axis": {"values": [0, 5, 10, 15], "offset": -65, "title": "Tijd (Minuten)", "titleX": 234}}, "x2": {"datum": 15.2}, "y": {"datum": 0, "type": "quantitative", "axis": {"values": [0, 20, 40, 60, 80, 100, 120, 140], "offset": -78, "title": "Uitslag alcoholslot (ug/L)"}}}},
         {"mark": {"type": "line", "strokeWidth": 2.4},
          "encoding": {
            "color": {"field": "persoon", "type": "nominal", "scale": {"domain": ["Persoon 1","Persoon 2","Persoon 3","Persoon 4","Persoon 5","Persoon 6","Persoon 7","Persoon 8","88 ug/L"], "range": ["#4F81BD","#C0504D","#9BBB59","#8064A2","#4BACC6","#F79646","#95B3D7","#DD9A98","#BCD494"]}, "legend": null}}},
         {"mark": {"type": "point", "filled": true, "opacity": 1, "size": 95}, "transform": [{"filter": "datum.persoon !== '88 ug/L'"}],
          "encoding": {
            "color": {"field": "persoon", "type": "nominal", "scale": {"domain": ["Persoon 1","Persoon 2","Persoon 3","Persoon 4","Persoon 5","Persoon 6","Persoon 7","Persoon 8","88 ug/L"], "range": ["#4F81BD","#C0504D","#9BBB59","#8064A2","#4BACC6","#F79646","#95B3D7","#DD9A98","#BCD494"]}, "legend": null},
            "shape": {"field": "persoon", "type": "nominal", "scale": {"domain": ["Persoon 1","Persoon 2","Persoon 3","Persoon 4","Persoon 5","Persoon 6","Persoon 7","Persoon 8"], "range": ["M0,-1L1,0L0,1L-1,0Z","M-0.9,-0.9H0.9V0.9H-0.9Z","M0,-1L1,0.8H-1Z","M-1,-0.72L-0.72,-1L1,0.72L0.72,1Z M0.72,-1L1,-0.72L-0.72,1L-1,0.72Z","M-1,-0.72L-0.72,-1L1,0.72L0.72,1Z M0.72,-1L1,-0.72L-0.72,1L-1,0.72Z M-0.14,-1H0.14V1H-0.14Z","M1,0A1,1,0,1,1,-1,0A1,1,0,1,1,1,0Z","M-1,-0.12H1V0.12H-1Z M-0.12,-1H0.12V1H-0.12Z","M-0.8,-0.16H0.8V0.16H-0.8Z"]}, "legend": null}}},
         {"data": {"values": []}, "mark": {"type": "point", "filled": true, "opacity": 1},
          "encoding": {
            "color": {"field": "lbl", "type": "nominal", "scale": {"domain": ["Persoon 1","Persoon 2","Persoon 3","Persoon 4","Persoon 5","Persoon 6","Persoon 7","Persoon 8","88 ug/L"], "range": ["#4F81BD","#C0504D","#9BBB59","#8064A2","#4BACC6","#F79646","#95B3D7","#DD9A98","#BCD494"]}, "legend": {"orient": "none", "legendX": 418, "legendY": 91.5}},
            "shape": {"field": "lbl", "type": "nominal", "scale": {"domain": ["Persoon 1","Persoon 2","Persoon 3","Persoon 4","Persoon 5","Persoon 6","Persoon 7","Persoon 8","88 ug/L"], "range": ["M-1,-0.085H1V0.085H-1Z M0,-0.3L0.3,0L0,0.3L-0.3,0Z","M-1,-0.085H1V0.085H-1Z M-0.24,-0.24H0.24V0.24H-0.24Z","M-1,-0.085H1V0.085H-1Z M0,-0.3L0.3,0.22H-0.3Z","M-1,-0.085H1V0.085H-1Z M-0.24,-0.18L-0.18,-0.24L0.24,0.18L0.18,0.24Z M0.18,-0.24L0.24,-0.18L-0.18,0.24L-0.24,0.18Z","M-1,-0.085H1V0.085H-1Z M-0.24,-0.18L-0.18,-0.24L0.24,0.18L0.18,0.24Z M0.18,-0.24L0.24,-0.18L-0.18,0.24L-0.24,0.18Z M-0.035,-0.26H0.035V0.26H-0.035Z","M-1,-0.085H1V0.085H-1Z M0.27,0A0.27,0.27,0,1,1,-0.27,0A0.27,0.27,0,1,1,0.27,0Z","M-1,-0.085H1V0.085H-1Z M-0.035,-0.26H0.035V0.26H-0.035Z","M-1,-0.085H1V0.085H-1Z","M-1,-0.085H1V0.085H-1Z"]}}}}
       ],
       "resolve": {"scale": {"color": "independent", "shape": "independent"}}}
    ]},
    {"spacing": -6, "hconcat": [
      {"width": 525, "height": 368, "data": {"name": "d"}, "transform": [{"filter": "datum.panel === 'ruit1'"}],
       "title": {"text": "Ruitenwisservloeistof 1", "offset": -43.5},
       "encoding": {
         "x": {"field": "tijd", "type": "quantitative", "scale": {"domain": [-3.702, 21.538], "nice": false, "zero": false}, "axis": {"values": [0, 5, 10, 15], "offset": -70, "title": "Tijd (Minuten)", "titleX": 232}},
         "y": {"field": "waarde", "type": "quantitative", "scale": {"domain": [-36.05, 153.48], "nice": false, "zero": false}, "axis": {"values": [0, 20, 40, 60, 80, 100, 120], "offset": -77, "title": "Uitslag alcoholslot (ug/L)"}}
       },
       "layer": [
         {"mark": {"type": "rule", "color": "#BFBFBF", "strokeWidth": 1}, "encoding": {"x": {"datum": 0, "type": "quantitative", "axis": {"values": [0, 5, 10, 15], "offset": -70, "title": "Tijd (Minuten)", "titleX": 232}}, "y": {"datum": 0, "type": "quantitative", "axis": {"values": [0, 20, 40, 60, 80, 100, 120], "offset": -77, "title": "Uitslag alcoholslot (ug/L)"}}, "y2": {"datum": 120}}},
         {"mark": {"type": "rule", "color": "#BFBFBF", "strokeWidth": 1}, "encoding": {"x": {"datum": 0, "type": "quantitative", "axis": {"values": [0, 5, 10, 15], "offset": -70, "title": "Tijd (Minuten)", "titleX": 232}}, "x2": {"datum": 15.2}, "y": {"datum": 0, "type": "quantitative", "axis": {"values": [0, 20, 40, 60, 80, 100, 120], "offset": -77, "title": "Uitslag alcoholslot (ug/L)"}}}},
         {"mark": {"type": "line", "strokeWidth": 2.4},
          "encoding": {
            "color": {"field": "persoon", "type": "nominal", "scale": {"domain": ["Persoon 1","Persoon 2","Persoon 3","Persoon 4","Persoon 5","Persoon 6","Persoon 7","Persoon 8","88 ug/L"], "range": ["#4F81BD","#C0504D","#9BBB59","#8064A2","#4BACC6","#F79646","#95B3D7","#DD9A98","#BCD494"]}, "legend": null}}},
         {"mark": {"type": "point", "filled": true, "opacity": 1, "size": 95}, "transform": [{"filter": "datum.persoon !== '88 ug/L'"}],
          "encoding": {
            "color": {"field": "persoon", "type": "nominal", "scale": {"domain": ["Persoon 1","Persoon 2","Persoon 3","Persoon 4","Persoon 5","Persoon 6","Persoon 7","Persoon 8","88 ug/L"], "range": ["#4F81BD","#C0504D","#9BBB59","#8064A2","#4BACC6","#F79646","#95B3D7","#DD9A98","#BCD494"]}, "legend": null},
            "shape": {"field": "persoon", "type": "nominal", "scale": {"domain": ["Persoon 1","Persoon 2","Persoon 3","Persoon 4","Persoon 5","Persoon 6","Persoon 7","Persoon 8"], "range": ["M0,-1L1,0L0,1L-1,0Z","M-0.9,-0.9H0.9V0.9H-0.9Z","M0,-1L1,0.8H-1Z","M-1,-0.72L-0.72,-1L1,0.72L0.72,1Z M0.72,-1L1,-0.72L-0.72,1L-1,0.72Z","M-1,-0.72L-0.72,-1L1,0.72L0.72,1Z M0.72,-1L1,-0.72L-0.72,1L-1,0.72Z M-0.14,-1H0.14V1H-0.14Z","M1,0A1,1,0,1,1,-1,0A1,1,0,1,1,1,0Z","M-1,-0.12H1V0.12H-1Z M-0.12,-1H0.12V1H-0.12Z","M-0.8,-0.16H0.8V0.16H-0.8Z"]}, "legend": null}}},
         {"data": {"values": []}, "mark": {"type": "point", "filled": true, "opacity": 1},
          "encoding": {
            "color": {"field": "lbl", "type": "nominal", "scale": {"domain": ["Persoon 1","Persoon 2","Persoon 3","Persoon 4","Persoon 5","Persoon 6","Persoon 7","Persoon 8","88 ug/L"], "range": ["#4F81BD","#C0504D","#9BBB59","#8064A2","#4BACC6","#F79646","#95B3D7","#DD9A98","#BCD494"]}, "legend": {"orient": "none", "legendX": 418, "legendY": 88}},
            "shape": {"field": "lbl", "type": "nominal", "scale": {"domain": ["Persoon 1","Persoon 2","Persoon 3","Persoon 4","Persoon 5","Persoon 6","Persoon 7","Persoon 8","88 ug/L"], "range": ["M-1,-0.085H1V0.085H-1Z M0,-0.3L0.3,0L0,0.3L-0.3,0Z","M-1,-0.085H1V0.085H-1Z M-0.24,-0.24H0.24V0.24H-0.24Z","M-1,-0.085H1V0.085H-1Z M0,-0.3L0.3,0.22H-0.3Z","M-1,-0.085H1V0.085H-1Z M-0.24,-0.18L-0.18,-0.24L0.24,0.18L0.18,0.24Z M0.18,-0.24L0.24,-0.18L-0.18,0.24L-0.24,0.18Z","M-1,-0.085H1V0.085H-1Z M-0.24,-0.18L-0.18,-0.24L0.24,0.18L0.18,0.24Z M0.18,-0.24L0.24,-0.18L-0.18,0.24L-0.24,0.18Z M-0.035,-0.26H0.035V0.26H-0.035Z","M-1,-0.085H1V0.085H-1Z M0.27,0A0.27,0.27,0,1,1,-0.27,0A0.27,0.27,0,1,1,0.27,0Z","M-1,-0.085H1V0.085H-1Z M-0.035,-0.26H0.035V0.26H-0.035Z","M-1,-0.085H1V0.085H-1Z","M-1,-0.085H1V0.085H-1Z"]}}}}
       ],
       "resolve": {"scale": {"color": "independent", "shape": "independent"}}},
      {"width": 520, "height": 368, "data": {"name": "d"}, "transform": [{"filter": "datum.panel === 'ruit2'"}],
       "title": {"text": "Ruitenwisservloeistof 2", "offset": -43.5},
       "encoding": {
         "x": {"field": "tijd", "type": "quantitative", "scale": {"domain": [-3.75, 21.25], "nice": false, "zero": false}, "axis": {"values": [0, 5, 10, 15], "offset": -70, "title": "Tijd (Minuten)", "titleX": 234}},
         "y": {"field": "waarde", "type": "quantitative", "scale": {"domain": [-35.9, 152.82], "nice": false, "zero": false}, "axis": {"values": [0, 20, 40, 60, 80, 100, 120], "offset": -78, "title": "Uitslag alcoholslot (ug/L)"}}
       },
       "layer": [
         {"mark": {"type": "rule", "color": "#BFBFBF", "strokeWidth": 1}, "encoding": {"x": {"datum": 0, "type": "quantitative", "axis": {"values": [0, 5, 10, 15], "offset": -70, "title": "Tijd (Minuten)", "titleX": 234}}, "y": {"datum": 0, "type": "quantitative", "axis": {"values": [0, 20, 40, 60, 80, 100, 120], "offset": -78, "title": "Uitslag alcoholslot (ug/L)"}}, "y2": {"datum": 120}}},
         {"mark": {"type": "rule", "color": "#BFBFBF", "strokeWidth": 1}, "encoding": {"x": {"datum": 0, "type": "quantitative", "axis": {"values": [0, 5, 10, 15], "offset": -70, "title": "Tijd (Minuten)", "titleX": 234}}, "x2": {"datum": 15.2}, "y": {"datum": 0, "type": "quantitative", "axis": {"values": [0, 20, 40, 60, 80, 100, 120], "offset": -78, "title": "Uitslag alcoholslot (ug/L)"}}}},
         {"mark": {"type": "line", "strokeWidth": 2.4},
          "encoding": {
            "color": {"field": "persoon", "type": "nominal", "scale": {"domain": ["Persoon 1","Persoon 2","Persoon 3","Persoon 4","Persoon 5","Persoon 6","Persoon 7","Persoon 8","88 ug/L"], "range": ["#4F81BD","#C0504D","#9BBB59","#8064A2","#4BACC6","#F79646","#95B3D7","#DD9A98","#BCD494"]}, "legend": null}}},
         {"mark": {"type": "point", "filled": true, "opacity": 1, "size": 95}, "transform": [{"filter": "datum.persoon !== '88 ug/L'"}],
          "encoding": {
            "color": {"field": "persoon", "type": "nominal", "scale": {"domain": ["Persoon 1","Persoon 2","Persoon 3","Persoon 4","Persoon 5","Persoon 6","Persoon 7","Persoon 8","88 ug/L"], "range": ["#4F81BD","#C0504D","#9BBB59","#8064A2","#4BACC6","#F79646","#95B3D7","#DD9A98","#BCD494"]}, "legend": null},
            "shape": {"field": "persoon", "type": "nominal", "scale": {"domain": ["Persoon 1","Persoon 2","Persoon 3","Persoon 4","Persoon 5","Persoon 6","Persoon 7","Persoon 8"], "range": ["M0,-1L1,0L0,1L-1,0Z","M-0.9,-0.9H0.9V0.9H-0.9Z","M0,-1L1,0.8H-1Z","M-1,-0.72L-0.72,-1L1,0.72L0.72,1Z M0.72,-1L1,-0.72L-0.72,1L-1,0.72Z","M-1,-0.72L-0.72,-1L1,0.72L0.72,1Z M0.72,-1L1,-0.72L-0.72,1L-1,0.72Z M-0.14,-1H0.14V1H-0.14Z","M1,0A1,1,0,1,1,-1,0A1,1,0,1,1,1,0Z","M-1,-0.12H1V0.12H-1Z M-0.12,-1H0.12V1H-0.12Z","M-0.8,-0.16H0.8V0.16H-0.8Z"]}, "legend": null}}},
         {"data": {"values": []}, "mark": {"type": "point", "filled": true, "opacity": 1},
          "encoding": {
            "color": {"field": "lbl", "type": "nominal", "scale": {"domain": ["Persoon 1","Persoon 2","Persoon 3","Persoon 4","Persoon 5","Persoon 6","Persoon 7","Persoon 8","88 ug/L"], "range": ["#4F81BD","#C0504D","#9BBB59","#8064A2","#4BACC6","#F79646","#95B3D7","#DD9A98","#BCD494"]}, "legend": {"orient": "none", "legendX": 418, "legendY": 86.5}},
            "shape": {"field": "lbl", "type": "nominal", "scale": {"domain": ["Persoon 1","Persoon 2","Persoon 3","Persoon 4","Persoon 5","Persoon 6","Persoon 7","Persoon 8","88 ug/L"], "range": ["M-1,-0.085H1V0.085H-1Z M0,-0.3L0.3,0L0,0.3L-0.3,0Z","M-1,-0.085H1V0.085H-1Z M-0.24,-0.24H0.24V0.24H-0.24Z","M-1,-0.085H1V0.085H-1Z M0,-0.3L0.3,0.22H-0.3Z","M-1,-0.085H1V0.085H-1Z M-0.24,-0.18L-0.18,-0.24L0.24,0.18L0.18,0.24Z M0.18,-0.24L0.24,-0.18L-0.18,0.24L-0.24,0.18Z","M-1,-0.085H1V0.085H-1Z M-0.24,-0.18L-0.18,-0.24L0.24,0.18L0.18,0.24Z M0.18,-0.24L0.24,-0.18L-0.18,0.24L-0.24,0.18Z M-0.035,-0.26H0.035V0.26H-0.035Z","M-1,-0.085H1V0.085H-1Z M0.27,0A0.27,0.27,0,1,1,-0.27,0A0.27,0.27,0,1,1,0.27,0Z","M-1,-0.085H1V0.085H-1Z M-0.035,-0.26H0.035V0.26H-0.035Z","M-1,-0.085H1V0.085H-1Z","M-1,-0.085H1V0.085H-1Z"]}}}}
       ],
       "resolve": {"scale": {"color": "independent", "shape": "independent"}}}
    ]}
  ],
  "config": {
    "font": "Lato",
    "numberFormat": "d",
    "view": {"stroke": "#000000", "strokeWidth": 2.5},
    "title": {"font": "Lato", "fontSize": 24.5, "fontWeight": "bold", "color": "#000000", "anchor": "middle", "frame": "group"},
    "axis": {"grid": false, "domain": false, "ticks": false, "labelFont": "Lato", "labelFontSize": 12.5, "labelColor": "#595959", "titleFont": "Lato", "titleFontWeight": "bold", "titleColor": "#262626"},
    "axisX": {"labelPadding": 14.5, "titlePadding": 6, "titleFontSize": 13.5, "labelFlush": false},
    "axisY": {"labelPadding": 14, "titlePadding": 8, "titleFontSize": 12.8},
    "legend": {"title": null, "symbolSize": 784, "labelFont": "Lato", "labelFontSize": 13, "labelColor": "#404040", "rowPadding": 5.3, "labelOffset": 2, "symbolStrokeWidth": 0}
  }
}
